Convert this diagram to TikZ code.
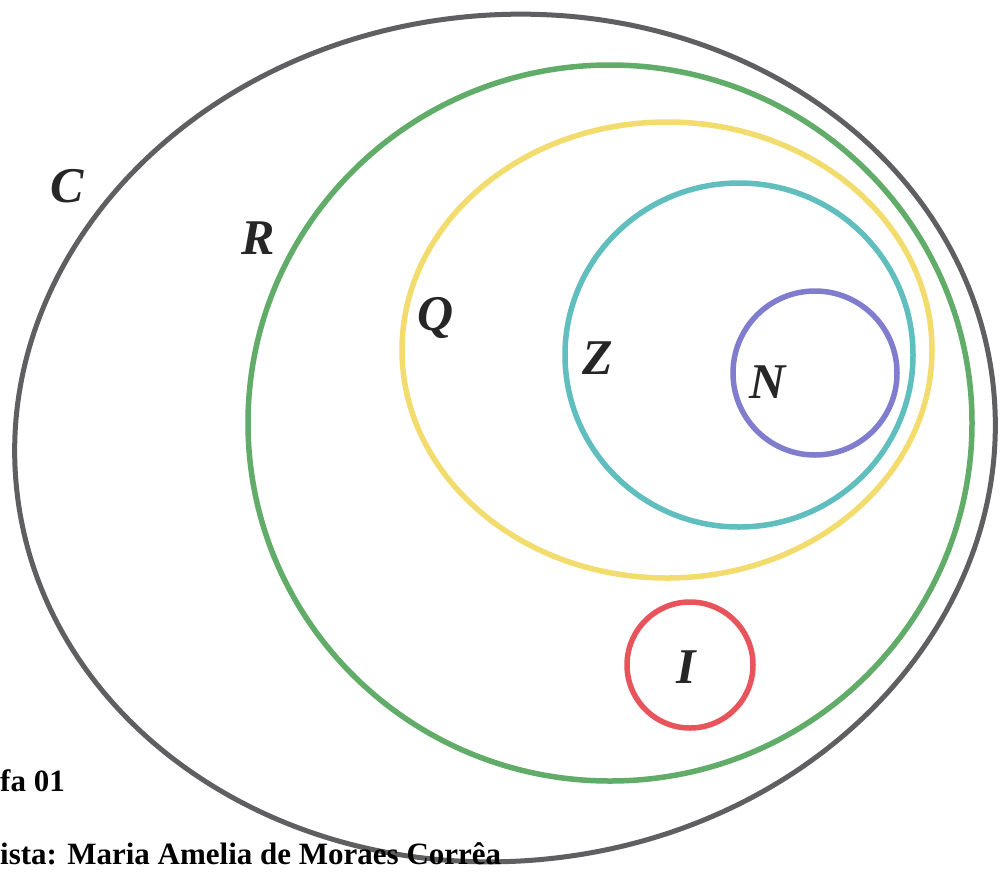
\documentclass[tikz,border=0pt]{standalone}
\usepackage{fontspec}
\setmainfont{Liberation Serif}
\begin{document}
\begin{tikzpicture}[x=1pt,y=-1pt,
  ring/.style={line width=5.5pt},
  setlabel/.style={font=\fontsize{50}{52}\selectfont\bfseries\itshape, text=black!85, inner sep=0pt},
  caption/.style={font=\fontsize{31}{33}\selectfont\bfseries, anchor=base west, inner sep=0pt}]
\definecolor{cgray}{RGB}{95,95,98}
\definecolor{cgreen}{RGB}{96,172,104}
\definecolor{cyellow}{RGB}{242,220,110}
\definecolor{ccyan}{RGB}{96,190,190}
\definecolor{cblue}{RGB}{128,124,206}
\definecolor{cred}{RGB}{232,84,92}
\useasboundingbox (0,0) rectangle (1006,871);
\fill[white] (0,0) rectangle (1006,871);
% sets
\draw[ring, cgray, line width=5pt, rotate around={6:(505,438)}] (505,438) ellipse [x radius=491, y radius=423];
\draw[ring, cgreen] (610,423) ellipse [x radius=362, y radius=358];
\draw[ring, cyellow] (667,350) ellipse [x radius=265, y radius=228];
\draw[ring, ccyan] (739,355) ellipse [x radius=174, y radius=172];
\draw[ring, cblue] (815,373) circle [radius=82];
\draw[ring, cred] (690,665) circle [radius=63];
% labels
\node[setlabel] (lC) at (67,186) {C};
\node[setlabel] (lR) at (258,238) {R};
\node[setlabel] (lQ) at (436,318) {Q};
\node[setlabel] (lZ) at (598,358) {Z};
\node[setlabel] (lN) at (768,382) {N};
\node[setlabel] (lI) at (686,667) {I};
% caption
\node[caption] (t1) at (0,791) {fa 01};
\node[caption] (t2) at (0,864) {ista: Maria Amelia de Moraes Corrêa};
\end{tikzpicture}
\end{document}
